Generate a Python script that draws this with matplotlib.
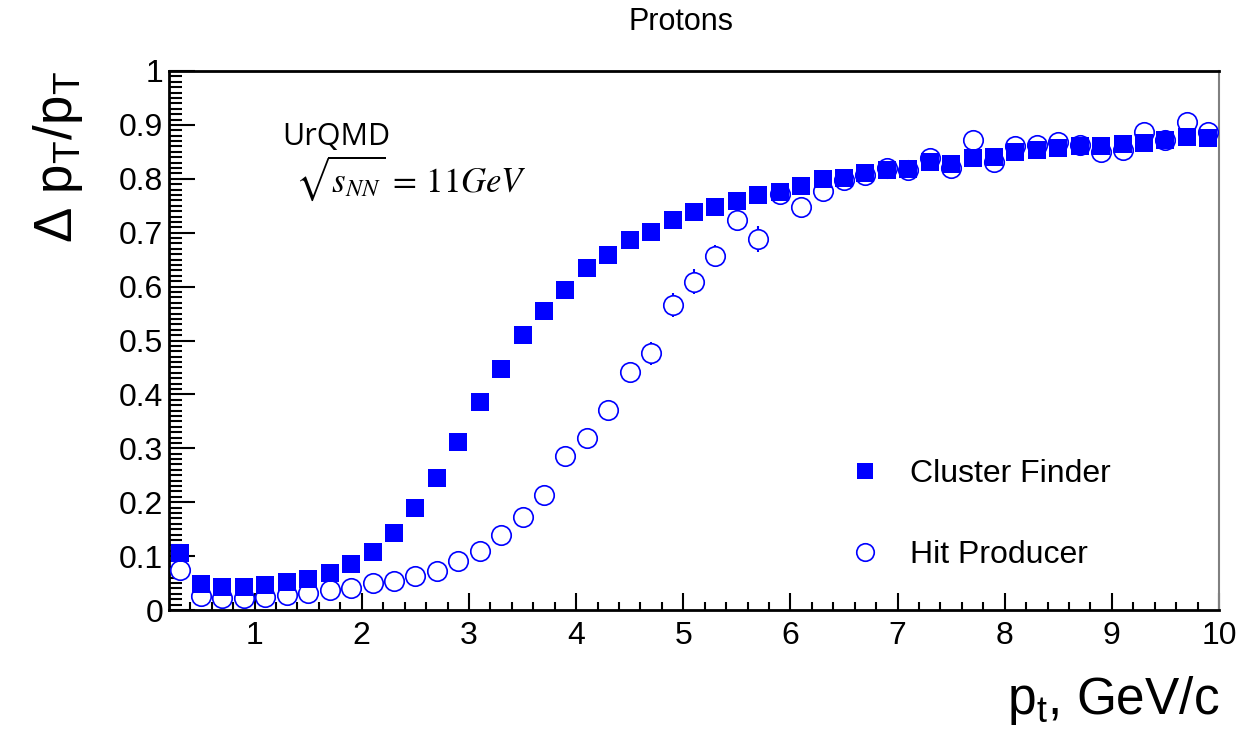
import numpy as np
import matplotlib
matplotlib.use("Agg")
import matplotlib.pyplot as plt

# pt bin centres, GeV/c
pt = [0.3, 0.5, 0.7, 0.9, 1.1, 1.3, 1.5, 1.7, 1.9, 2.1,
      2.3, 2.5, 2.7, 2.9, 3.1, 3.3, 3.5, 3.7, 3.9, 4.1,
      4.3, 4.5, 4.7, 4.9, 5.1, 5.3, 5.5, 5.7, 5.9, 6.1,
      6.3, 6.5, 6.7, 6.9, 7.1, 7.3, 7.5, 7.7, 7.9, 8.1,
      8.3, 8.5, 8.7, 8.9, 9.1, 9.3, 9.5, 9.7, 9.9]

cluster_finder = [0.105, 0.048, 0.042, 0.042, 0.047, 0.052, 0.057, 0.068, 0.085, 0.108,
                  0.143, 0.190, 0.244, 0.312, 0.385, 0.448, 0.510, 0.555, 0.594, 0.635,
                  0.658, 0.686, 0.702, 0.723, 0.738, 0.748, 0.759, 0.770, 0.776, 0.787,
                  0.799, 0.802, 0.810, 0.816, 0.819, 0.832, 0.827, 0.839, 0.841, 0.849,
                  0.853, 0.858, 0.861, 0.861, 0.864, 0.866, 0.872, 0.878, 0.875]

hit_producer = [0.074, 0.026, 0.022, 0.023, 0.025, 0.028, 0.032, 0.038, 0.041, 0.050,
                0.054, 0.063, 0.072, 0.090, 0.110, 0.140, 0.173, 0.213, 0.286, 0.320,
                0.371, 0.442, 0.476, 0.566, 0.609, 0.657, 0.724, 0.689, 0.772, 0.748,
                0.777, 0.797, 0.807, 0.820, 0.816, 0.839, 0.820, 0.872, 0.832, 0.860,
                0.863, 0.869, 0.863, 0.850, 0.853, 0.887, 0.872, 0.906, 0.887]

hit_producer_err = [0.003, 0.003, 0.003, 0.003, 0.003, 0.003, 0.003, 0.003, 0.003, 0.003,
                    0.003, 0.003, 0.003, 0.004, 0.004, 0.005, 0.005, 0.006, 0.008, 0.008,
                    0.010, 0.018, 0.022, 0.022, 0.023, 0.020, 0.015, 0.024, 0.012, 0.019,
                    0.010, 0.010, 0.010, 0.010, 0.010, 0.010, 0.010, 0.010, 0.010, 0.010,
                    0.010, 0.010, 0.010, 0.010, 0.010, 0.010, 0.010, 0.010, 0.010]

plt.rcParams["font.family"] = ["Liberation Sans", "DejaVu Sans"]
plt.rcParams["mathtext.fontset"] = "custom"
plt.rcParams["mathtext.rm"] = "Liberation Sans"
plt.rcParams["mathtext.it"] = "Liberation Sans:italic"

fig = plt.figure(figsize=(12.42, 7.45), dpi=100)
ax = fig.add_axes([0.136, 0.1812, 0.8455, 0.7235])

ax.errorbar(pt, hit_producer, yerr=hit_producer_err, fmt="none",
            ecolor="blue", elinewidth=1.5, capsize=0, zorder=2)
hp, = ax.plot(pt, hit_producer, ls="none", marker="o", ms=14,
              mfc="white", mec="blue", mew=1.2, zorder=3, label="Hit Producer")
cf, = ax.plot(pt, cluster_finder, ls="none", marker="s", ms=13.5,
              mfc="blue", mec="blue", mew=0, zorder=4, label="Cluster Finder")

ax.set_xlim(0.2, 10)
ax.set_ylim(0, 1)
ax.set_xticks(range(1, 11))
ax.set_xticks(np.arange(0.4, 10, 0.2), minor=True)
ax.set_yticks(np.arange(0, 1.01, 0.1))
ax.set_yticks(np.arange(0, 1.0, 0.01), minor=True)
ax.set_yticklabels(["0", "0.1", "0.2", "0.3", "0.4", "0.5", "0.6", "0.7", "0.8", "0.9", "1"])

ax.tick_params(axis="both", which="both", direction="in", top=False, right=False,
               labelsize=23, width=1.5)
ax.tick_params(axis="y", which="major", length=19, pad=4)
ax.tick_params(axis="y", which="minor", length=9.5)
ax.tick_params(axis="x", which="major", length=12, pad=8)
ax.tick_params(axis="x", which="minor", length=6)
for side in ["left", "bottom", "top"]:
    ax.spines[side].set_linewidth(2)
ax.spines["right"].set_linewidth(1.5)
ax.spines["right"].set_color("#808080")

ax.set_xlabel("p$_{\\mathrm{t}}$, GeV/c", fontsize=37, loc="right")
ax.xaxis.set_label_coords(1.0, -0.118)
ax.set_ylabel("Δ p$_{\\mathrm{T}}$/p$_{\\mathrm{T}}$", fontsize=38, loc="top")
ax.yaxis.set_label_coords(-0.08, 1.0)

fig.text(681 / 1242, 1 - 22 / 745, "Protons", fontsize=22, ha="center", va="center")

ax.text(0.108, 0.862, "UrQMD", transform=ax.transAxes, fontsize=22,
        family=["Open Sans", "DejaVu Sans"], va="baseline")
ax.text(0.12, 0.775, r"$\sqrt{s_{NN}}\,=\,11GeV$", transform=ax.transAxes,
        fontsize=25, math_fontfamily="stix", va="baseline")

ax.legend(handles=[cf, hp], loc="upper left", bbox_to_anchor=(0.6476, 0.280),
          frameon=False, fontsize=23, handlelength=1.0, handletextpad=0.9,
          labelspacing=1.6, borderpad=0, borderaxespad=0, markerscale=0.9)

fig.savefig("out.png", dpi=100)
